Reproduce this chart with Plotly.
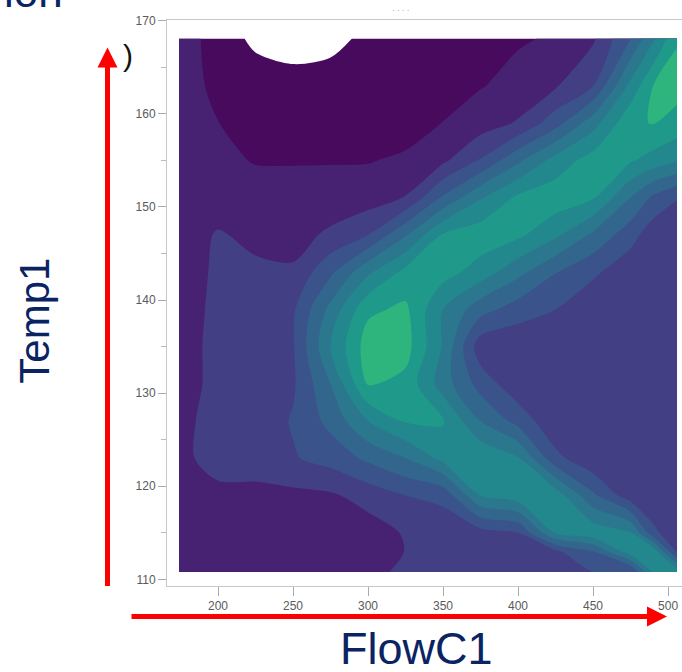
import plotly.graph_objects as go

# ---- data ----
FLOW = [174, 200, 225, 250, 275, 300, 325, 350, 375, 400, 425, 450, 475, 490, 506]
TEMP = [110.8, 113, 115, 119, 123, 127, 131, 135, 139, 143, 147, 151, 155, 159, 163, 168.1]

# response level (band index) on the FLOW x TEMP grid, rows = TEMP ascending
Z_111 = [2.4, 2.3, 2.25, 2.25, 2.3, 2.6, 3.3, 3.2, 3.25, 3.3, 3.4, 4.0, 3.9, 7.1, 7.6]
Z_113 = [2.4, 2.3, 2.25, 2.25, 2.3, 2.5, 3.02, 3.25, 3.3, 3.4, 3.8, 5.0, 7.6, 7.7, 3.8]
Z_115 = [2.4, 2.3, 2.25, 2.25, 2.35, 2.5, 3.1, 3.3, 3.6, 4.0, 7.1, 7.7, 7.1, 4.3, 3.2]
Z_119 = [2.5, 2.8, 2.7, 2.75, 2.85, 3.4, 4.0, 4.3, 7.0, 7.6, 7.6, 5.2, 3.4, 3.1, 3.1]
Z_123 = [2.8, 3.3, 3.5, 3.9, 4.4, 5.2, 6.0, 7.3, 7.9, 7.1, 4.3, 3.2, 3.1, 3.1, 3.1]
Z_127 = [2.85, 3.2, 3.3, 4.1, 5.3, 7.0, 8.1, 8.1, 6.0, 4.65, 3.2, 3.1, 3.1, 3.1, 3.1]
Z_131 = [2.7, 3.2, 3.3, 3.85, 6.0, 9.1, 8.7, 6.5, 4.6, 3.3, 3.1, 3.1, 3.1, 3.1, 3.1]
Z_135 = [2.7, 3.2, 3.3, 3.9, 7.0, 9.5, 9.4, 6.9, 3.4, 3.2, 3.1, 3.1, 3.1, 3.1, 3.1]
Z_139 = [2.6, 3.2, 3.2, 3.85, 6.3, 8.8, 9.2, 7.0, 5.4, 4.5, 4.0, 3.2, 3.1, 3.1, 3.1]
Z_143 = [2.4, 3.2, 3.2, 3.15, 4.8, 6.8, 8.3, 8.4, 7.55, 6.3, 5.05, 4.2, 3.3, 3.2, 3.2]
Z_147 = [2.4, 3.1, 2.75, 2.6, 3.2, 4.0, 5.9, 8.1, 8.6, 8.2, 7.2, 5.8, 4.4, 3.4, 3.3]
Z_151 = [2.4, 2.4, 2.35, 2.3, 2.35, 2.5, 3.05, 5.15, 6.9, 8.2, 8.6, 8.1, 6.0, 4.8, 4.05]
Z_155 = [2.4, 2.2, 1.95, 1.95, 1.95, 1.95, 2.15, 2.8, 4.1, 5.8, 7.4, 8.45, 8.1, 7.6, 7.1]
Z_159 = [2.4, 2.02, 1.45, 1.35, 1.4, 1.5, 1.6, 2.02, 2.5, 3.1, 4.6, 6.6, 8.8, 9.05, 8.6]
Z_163 = [2.4, 1.8, 1.6, 1.6, 1.6, 1.5, 1.55, 1.65, 1.95, 2.3, 2.9, 4.0, 7.3, 9.0, 9.4]
Z_168 = [2.5, 1.6, 0.75, 0.3, 0.6, 1.3, 1.45, 1.6, 1.75, 1.9, 2.1, 2.85, 5.0, 6.8, 8.9]
Z = [Z_111, Z_113, Z_115, Z_119, Z_123, Z_127, Z_131, Z_135, Z_139,
     Z_143, Z_147, Z_151, Z_155, Z_159, Z_163, Z_168]

LEVEL_COLORS = ["#ffffff", "#470a5c", "#482272", "#433f85", "#3a538b",
                "#32668d", "#2b778e", "#23888d", "#1f9a8a", "#2db57d"]

X_TICKS = [200, 250, 300, 350, 400, 450, 500]
Y_TICKS = [110, 120, 130, 140, 150, 160, 170]

W, H = 682, 672
def px(xp):
    return xp / W
def py(yp):
    return 1 - yp / H

colorscale = [[i / (len(LEVEL_COLORS) - 1), c] for i, c in enumerate(LEVEL_COLORS)]

fig = go.Figure(go.Contour(
    x=FLOW, y=TEMP, z=Z,
    colorscale=colorscale, showscale=False,
    contours=dict(start=1, end=9, size=1, coloring="fill", showlines=False),
    line=dict(width=0, smoothing=0.85),
    hoverinfo="skip",
))

tickfont = dict(family="Liberation Sans", size=12, color="#5a5a5a")
fig.update_layout(
    width=W, height=H,
    margin=dict(l=0, r=0, t=0, b=0),
    paper_bgcolor="white", plot_bgcolor="white",
    showlegend=False,
    xaxis=dict(domain=[px(167), 1.0], range=[166, 509.3],
               tickvals=X_TICKS, ticktext=[str(v) for v in X_TICKS],
               ticks="outside", ticklen=9, tickcolor="#aaaaaa",
               showline=True, linecolor="#c8c8c8", linewidth=1, mirror=True,
               showgrid=False, zeroline=False, tickfont=tickfont),
    yaxis=dict(domain=[py(586), py(14)], range=[109.3, 170.1],
               tickvals=Y_TICKS, ticktext=[str(v) for v in Y_TICKS],
               ticks="outside", ticklen=8, tickcolor="#aaaaaa",
               minor=dict(dtick=5, tick0=0, ticks="outside", ticklen=5, tickcolor="#bbbbbb"),
               showline=True, linecolor="#c8c8c8", linewidth=1,
               showgrid=False, zeroline=False, tickfont=tickfont),
)

navy = "#0a2463"
ann = [
    dict(x=px(35), y=py(318), xref="paper", yref="paper", text="Temp1",
         textangle=-90, showarrow=False, xanchor="center", yanchor="middle",
         font=dict(family="Liberation Sans", size=42, color=navy)),
    dict(x=px(416), y=py(649), xref="paper", yref="paper", text="FlowC1",
         showarrow=False, xanchor="center", yanchor="middle",
         font=dict(family="Liberation Sans", size=45, color=navy)),
    # vertical red arrow
    dict(x=px(107.5), y=py(42), xref="paper", yref="paper", text="",
         showarrow=True, ax=0, ay=582 - 42, arrowhead=2, arrowsize=0.8,
         arrowwidth=5, arrowcolor="#ff0000", standoff=0),
    # horizontal red arrow
    dict(x=px(667), y=py(617), xref="paper", yref="paper", text="",
         showarrow=True, ax=-(667 - 130), ay=0, arrowhead=2, arrowsize=0.8,
         arrowwidth=5, arrowcolor="#ff0000", standoff=0),
    dict(x=px(128), y=py(50), xref="paper", yref="paper", text=")",
         showarrow=False, xanchor="center", yanchor="middle",
         font=dict(family="Liberation Sans", size=30, color="#111111")),
    dict(x=px(400), y=py(5), xref="paper", yref="paper", text="· · · ·",
         showarrow=False, xanchor="center", yanchor="middle",
         font=dict(family="Liberation Sans", size=8, color="#888888")),
    dict(x=px(2), y=py(12), xref="paper", yref="paper", text="ion",
         showarrow=False, xanchor="left", yanchor="bottom",
         font=dict(family="Liberation Sans", size=44, color=navy)),
]
fig.update_layout(annotations=ann)

fig.write_html("out.html")
